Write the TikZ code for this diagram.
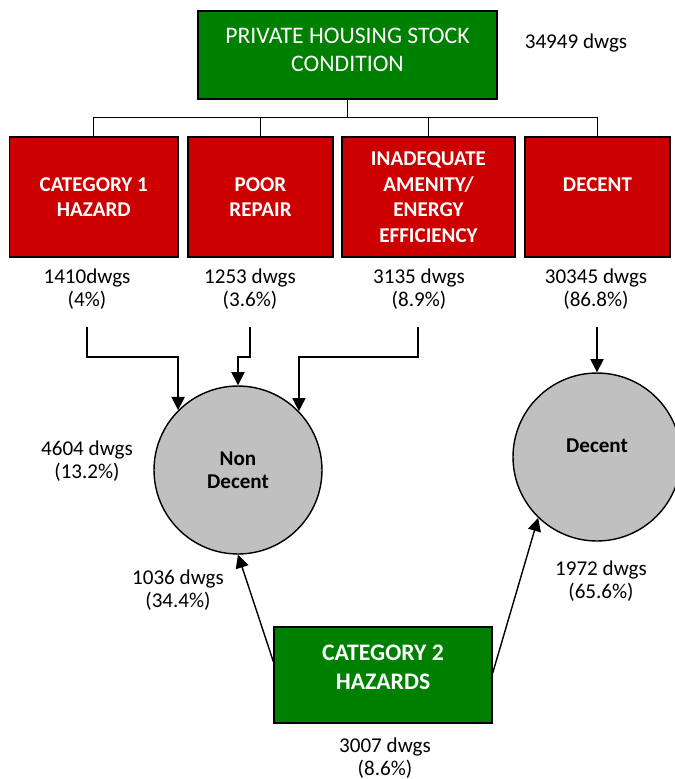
\documentclass[tikz,border=0pt]{standalone}
\usepackage{fontspec}
\setmainfont{Carlito}
\usetikzlibrary{arrows.meta}
\definecolor{stockgreen}{HTML}{008000}
\definecolor{defectred}{HTML}{CC0000}
\definecolor{tallygrey}{HTML}{C0C0C0}

\begin{document}
\begin{tikzpicture}[x=0.02cm,y=-0.02cm,line width=0.8pt,
  greenbox/.style={draw,fill=stockgreen,text=white,align=center},
  redbox/.style={draw,fill=defectred,text=white,align=center,minimum height=2.4cm,font=\bfseries\fontsize{12}{14.5}\selectfont},
  tally/.style={circle,draw,fill=tallygrey,minimum size=3.36cm,align=center,font=\bfseries\fontsize{12}{13}\selectfont},
  count/.style={align=center,font=\fontsize{12}{13.5}\selectfont},
  flow/.style={-{Triangle[length=7.5pt,width=7.5pt]}}]
  \useasboundingbox (0,0) rectangle (675,779);
  \node[greenbox,minimum width=5.98cm,minimum height=1.76cm,font=\fontsize{13.5}{16}\selectfont] (stock) at (347.5,55) {PRIVATE HOUSING STOCK\\CONDITION\\[-10pt]\mbox{}};
  \node[count] (total) at (576,43) {34949 dwgs};
  \node[redbox,minimum width=3.37cm] (cat1) at (93.75,197) {CATEGORY 1\\HAZARD};
  \node[redbox,minimum width=2.9cm] (poor) at (260.5,197) {POOR\\REPAIR};
  \node[redbox,minimum width=3.46cm] (amenity) at (428.5,197) {INADEQUATE\\AMENITY/\\ENERGY\\EFFICIENCY};
  \node[redbox,minimum width=2.9cm] (decent) at (597.5,197) {DECENT\\\phantom{X}};
  \draw (stock.south) -- ++(0,18) -| (cat1.north);
  \draw (stock.south) -- ++(0,18) -| (poor.north);
  \draw (stock.south) -- ++(0,18) -| (amenity.north);
  \draw (stock.south) -- ++(0,18) -| (decent.north);
  \node[count] (n1) at (87,289) {1410dwgs\\(4\%)};
  \node[count] (n2) at (250,289) {1253 dwgs\\(3.6\%)};
  \node[count] (n3) at (419,289) {3135 dwgs\\(8.9\%)};
  \node[count] (n4) at (596,289) {30345 dwgs\\(86.8\%)};
  \node[tally] (nondec) at (238,470) {Non\\Decent};
  \node[tally] (dec) at (597,457) {Decent\\\phantom{X}};
  \coordinate (s1) at (87,327);
  \coordinate (s2) at (250,327);
  \coordinate (s3) at (418,327);
  \coordinate (s4) at (597,327);
  \draw[flow] (s1) -- ++(0,30) -| (nondec.135.6);
  \draw[flow] (s2) -- ++(0,30) -| (nondec.north);
  \draw[flow] (s3) -- ++(0,30) -| (nondec.44.6);
  \draw[flow] (s4) -- (dec.north);
  \node[count] (n5) at (87,461) {4604 dwgs\\(13.2\%)};
  \node[greenbox,minimum width=4.36cm,minimum height=1.92cm,font=\bfseries\fontsize{13.5}{16.5}\selectfont] (cat2) at (383,675) {CATEGORY 2\\HAZARDS\\[-8pt]\mbox{}};
  \draw[flow] (cat2.173.7) -- (nondec.south);
  \draw[flow] (cat2.1) -- (dec.226.5);
  \node[count] (n6) at (178,590) {1036 dwgs\\(34.4\%)};
  \node[count] (n7) at (601,581) {1972 dwgs\\(65.6\%)};
  \node[count] (n8) at (385,758) {3007 dwgs\\(8.6\%)};
\end{tikzpicture}
\end{document}
